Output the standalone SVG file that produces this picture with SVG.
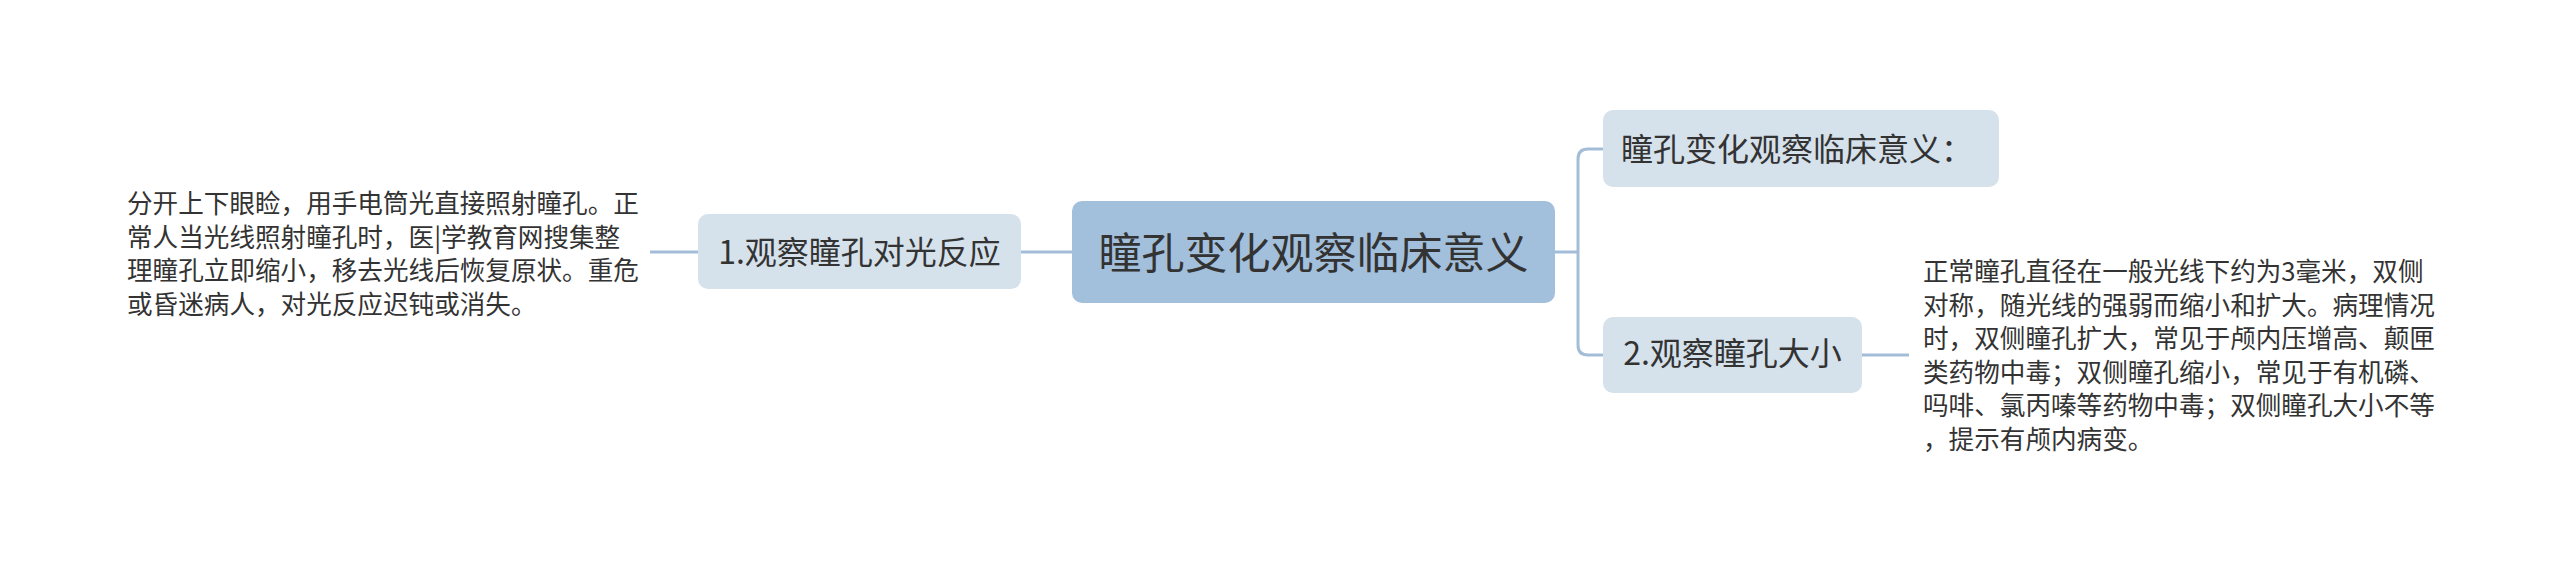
<svg xmlns="http://www.w3.org/2000/svg" width="2560" height="577" viewBox="0 0 2560 577">
<style>
.cn{font-family:"Noto Sans CJK SC","Noto Sans",sans-serif;fill:#333333}
.root{fill:#a2bfdc}
.sub{fill:#d5e1eb}
.conn{fill:none;stroke:#a3bdd8;stroke-width:3}
.body{font-size:25.6px}
.lbl{font-size:32px;text-anchor:middle}
</style>
<rect width="2560" height="577" fill="#ffffff"/>
<g id="connectors">
<path class="conn" d="M1555 252 H1578"/>
<path class="conn" d="M1578 252 V159 Q1578 149 1588 149 H1603"/>
<path class="conn" d="M1578 252 V345 Q1578 355 1588 355 H1603"/>
<path class="conn" d="M1072 252 H1021"/>
<path class="conn" d="M698 252 H650"/>
<path class="conn" d="M1862 355 H1909"/>
</g>
<g id="root">
<rect class="root" x="1072" y="201" width="483" height="102" rx="10"/>
<text class="cn" x="1313.5" y="269" font-size="43" text-anchor="middle">瞳孔变化观察临床意义</text>
</g>
<g id="node-meaning">
<rect class="sub" x="1603" y="110" width="396" height="77" rx="10"/>
<text class="cn" x="1621" y="161" font-size="32">瞳孔变化观察临床意义：</text>
</g>
<g id="node-size">
<rect class="sub" x="1603" y="317" width="259" height="76" rx="10"/>
<text class="cn lbl" x="1732.5" y="365">2.观察瞳孔大小</text>
</g>
<g id="node-light">
<rect class="sub" x="698" y="214" width="323" height="75" rx="10"/>
<text class="cn lbl" x="859.5" y="264">1.观察瞳孔对光反应</text>
</g>
<g id="text-light">
<text class="cn body" x="127" y="213">分开上下眼睑，用手电筒光直接照射瞳孔。正</text>
<text class="cn body" x="127" y="246.5">常人当光线照射瞳孔时，医|学教育网搜集整</text>
<text class="cn body" x="127" y="280">理瞳孔立即缩小，移去光线后恢复原状。重危</text>
<text class="cn body" x="127" y="313.5">或昏迷病人，对光反应迟钝或消失。</text>
</g>
<g id="text-size">
<text class="cn body" x="1923" y="281">正常瞳孔直径在一般光线下约为3毫米，双侧</text>
<text class="cn body" x="1923" y="314.5">对称，随光线的强弱而缩小和扩大。病理情况</text>
<text class="cn body" x="1923" y="348">时，双侧瞳孔扩大，常见于颅内压增高、颠匣</text>
<text class="cn body" x="1923" y="381.5">类药物中毒；双侧瞳孔缩小，常见于有机磷、</text>
<text class="cn body" x="1923" y="415">吗啡、氯丙嗪等药物中毒；双侧瞳孔大小不等</text>
<text class="cn body" x="1923" y="448.5">，提示有颅内病变。</text>
</g>
</svg>
